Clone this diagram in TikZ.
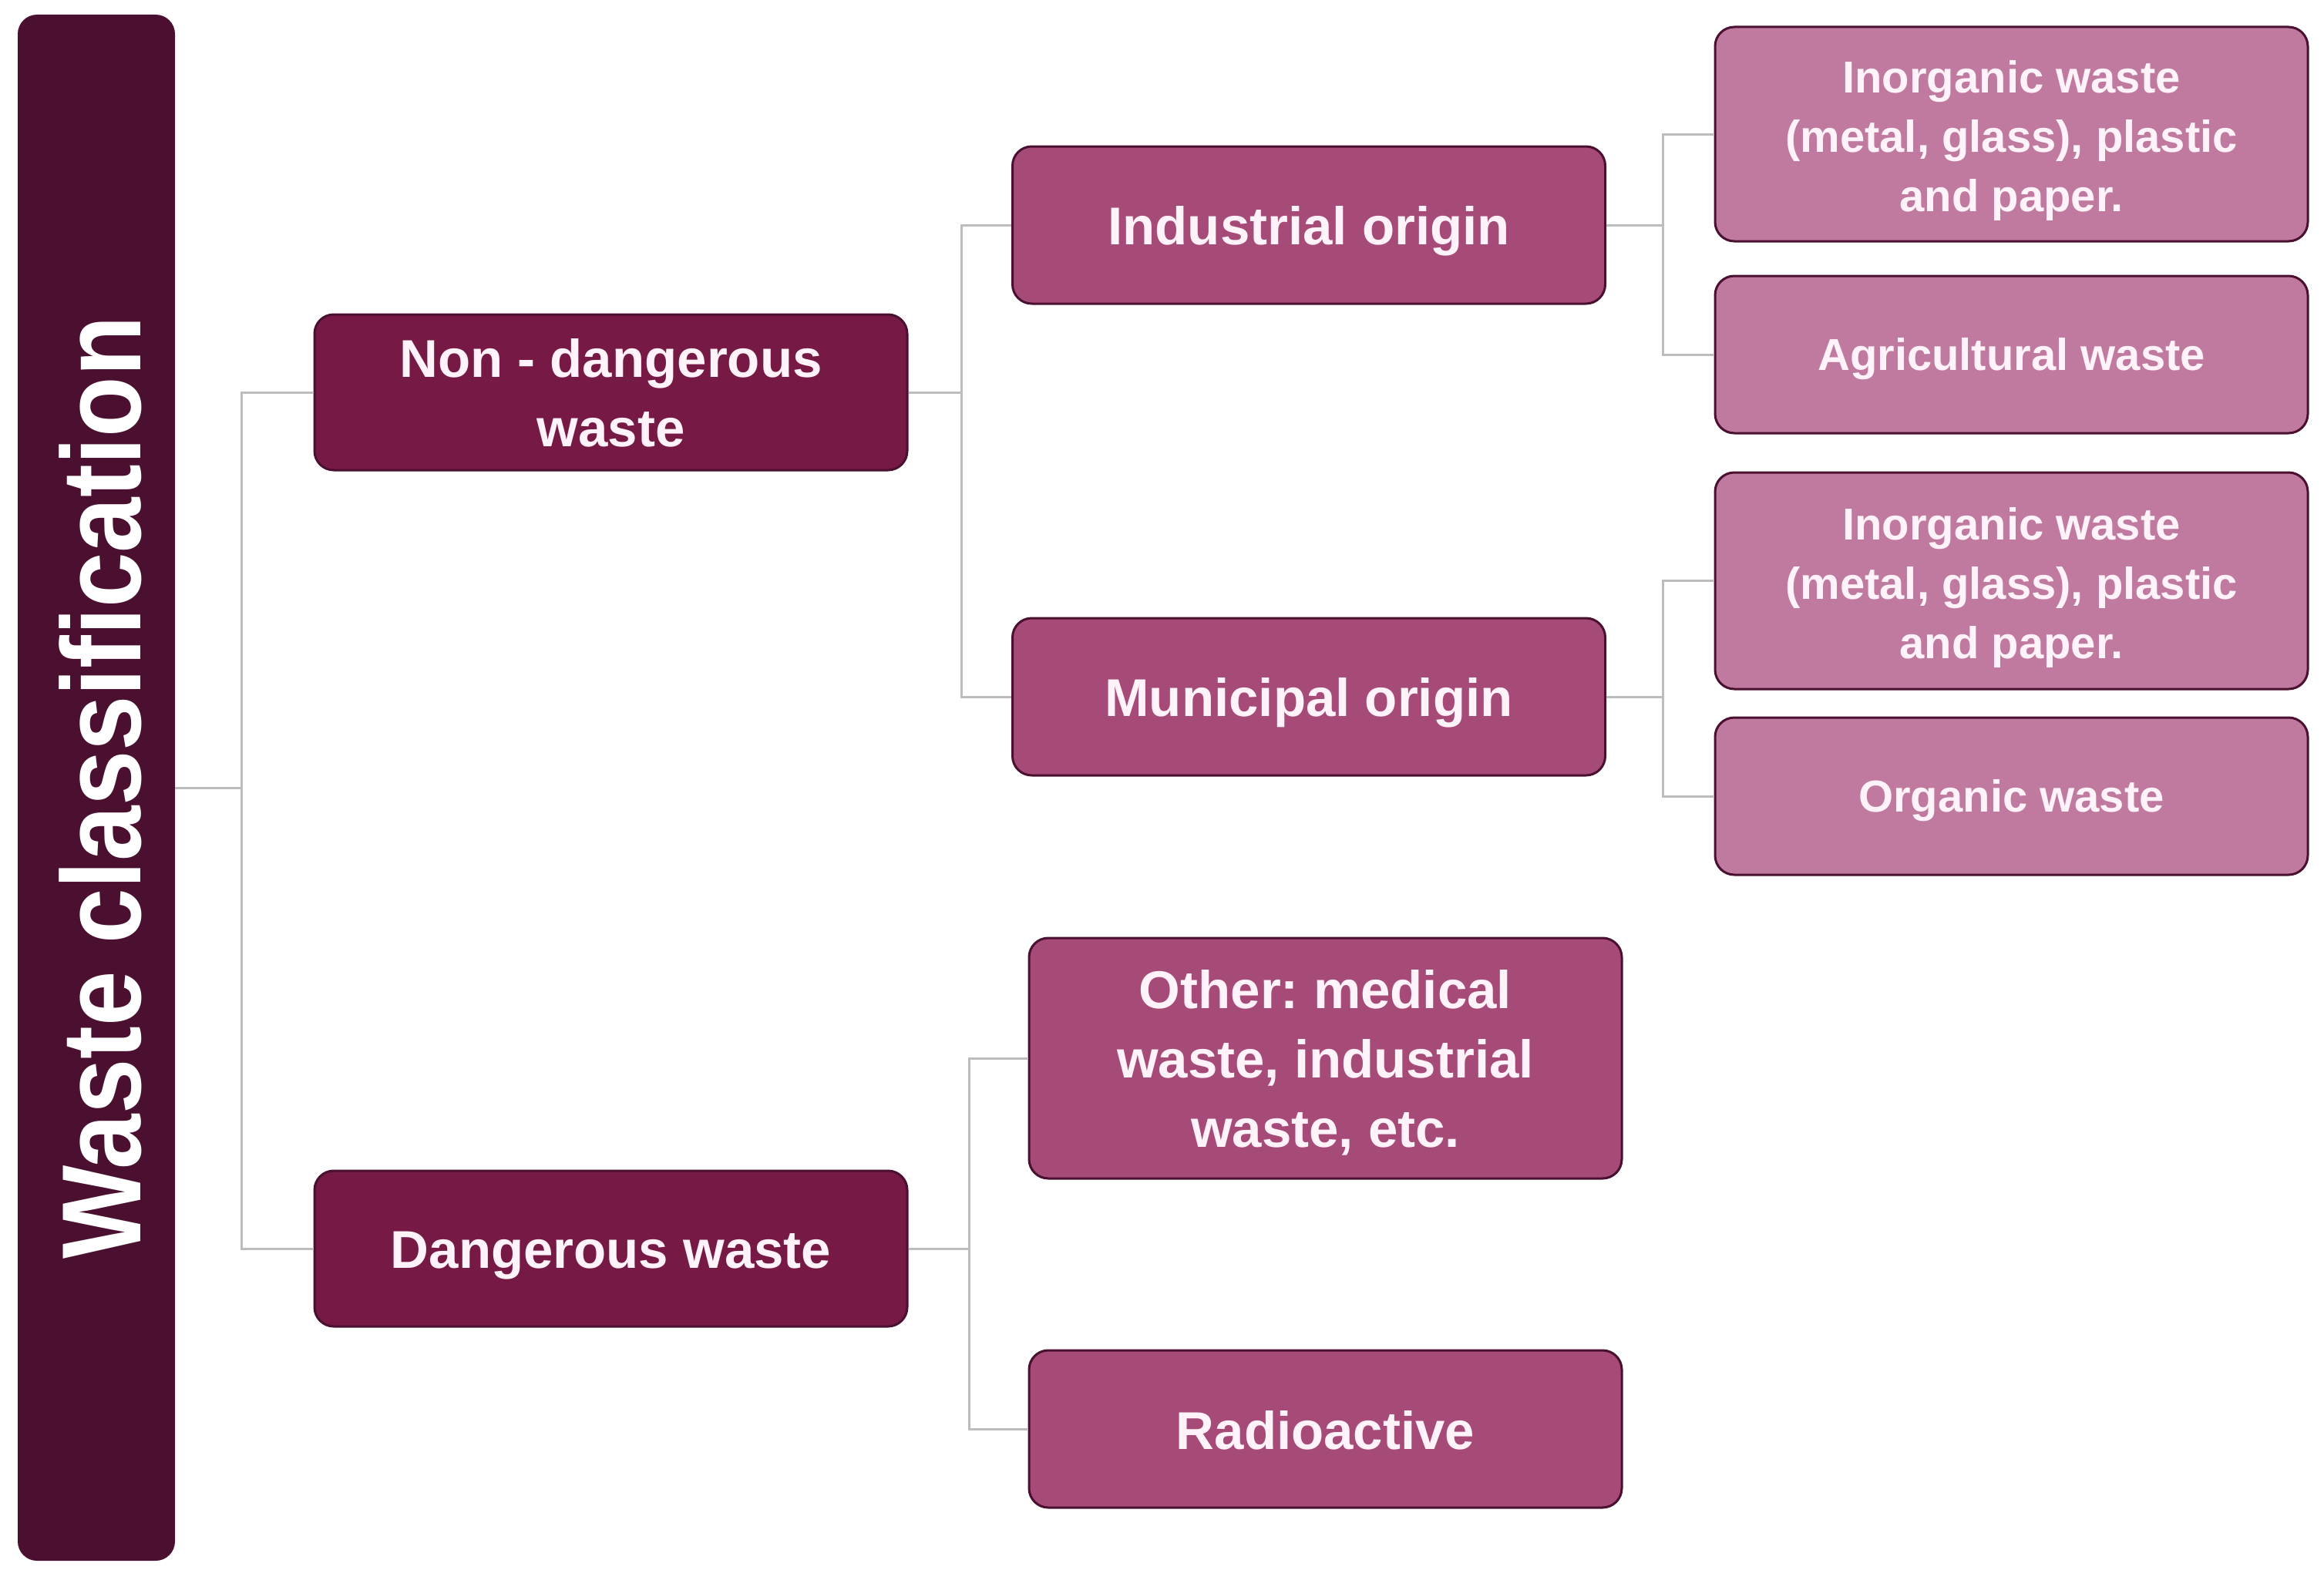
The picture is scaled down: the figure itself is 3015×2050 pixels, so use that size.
\documentclass[tikz,border=0pt]{standalone}
\usepackage{fontspec}
\setmainfont{Liberation Sans}
\frenchspacing
\definecolor{cTitle}{HTML}{4B1030}
\definecolor{cOne}{HTML}{761A45}
\definecolor{cTwo}{HTML}{A64A78}
\definecolor{cLeaf}{HTML}{C07A9F}
\definecolor{cBorder}{HTML}{4A1030}
\definecolor{cLine}{HTML}{BDBDBD}
\definecolor{cText}{HTML}{FFF2F8}
\begin{document}
\begin{tikzpicture}[x=1pt,y=-1pt,
  box/.style={draw=cBorder,line width=3pt,rounded corners=25pt,inner sep=0pt,minimum width=769pt},
  lvlone/.style={box,fill=cOne,minimum height=202pt},
  lvltwo/.style={box,fill=cTwo,minimum height=204pt},
  leafbox/.style={box,fill=cLeaf,minimum height=204pt},
  txt/.style={text=cText,align=center,inner sep=0pt,font=\fontsize{69}{90}\selectfont\bfseries},
  leaftxt/.style={txt,font=\fontsize{58}{77}\selectfont\bfseries},
  conn/.style={draw=cLine,line width=3pt}]
\useasboundingbox (0,0) rectangle (3015,2050);
\fill[white] (0,0) rectangle (3015,2050);
% boxes
\node[fill=cTitle,rounded corners=25pt,minimum width=204pt,minimum height=2006pt,inner sep=0pt] (title) at (125,1022) {};
\node[lvlone] (nd) at (792.5,509) {};
\node[lvlone] (dg) at (792.5,1620) {};
\node[lvltwo] (ind) at (1698,292) {};
\node[lvltwo] (mun) at (1698,904) {};
\node[lvltwo,minimum height=312pt] (oth) at (1719.5,1373) {};
\node[lvltwo] (rad) at (1719.5,1854) {};
\node[leafbox,minimum height=278pt] (in1) at (2609.5,174) {};
\node[leafbox] (agr) at (2609.5,460) {};
\node[leafbox,minimum height=281pt] (in2) at (2609.5,753.5) {};
\node[leafbox] (org) at (2609.5,1033) {};
% texts
\node[rotate=90,text=white,inner sep=0pt,font=\fontsize{146}{150}\selectfont\bfseries] (titletext) at ([xshift=5pt]title.center) {\scalebox{0.88}[1]{Waste classification}};
\node[txt] (ndT) at ([yshift=-1pt]nd.center) {Non - dangerous\\waste};
\node[txt] (dgT) at ([yshift=-9pt]dg.center) {Dangerous waste};
\node[txt] (indT) at ([yshift=-8pt]ind.center) {Industrial origin};
\node[txt] (munT) at ([yshift=-8pt]mun.center) {Municipal origin};
\node[txt] (othT) at ([yshift=-6pt]oth.center) {Other: medical\\waste, industrial\\waste, etc.};
\node[txt] (radT) at ([yshift=-2pt]rad.center) {Radioactive};
\node[leaftxt] (in1T) at ([yshift=-9pt]in1.center) {Inorganic waste\\(metal, glass), plastic\\and paper.};
\node[leaftxt] (agrT) at ([yshift=-6pt]agr.center) {Agricultural waste};
\node[leaftxt] (in2T) at ([yshift=-9pt]in2.center) {Inorganic waste\\(metal, glass), plastic\\and paper.};
\node[leaftxt] (orgT) at ([yshift=-6pt]org.center) {Organic waste};
% connectors
\draw[conn] (title.east) -- ++(86,0) |- (nd.west);
\draw[conn] (title.east) -- ++(86,0) |- (dg.west);
\draw[conn] (nd.east) -- ++(69,0) |- (ind.west);
\draw[conn] (nd.east) -- ++(69,0) |- (mun.west);
\draw[conn] (dg.east) -- ++(79,0) |- (oth.west);
\draw[conn] (dg.east) -- ++(79,0) |- (rad.west);
\draw[conn] (ind.east) -- ++(73,0) |- (in1.west);
\draw[conn] (ind.east) -- ++(73,0) |- (agr.west);
\draw[conn] (mun.east) -- ++(73,0) |- (in2.west);
\draw[conn] (mun.east) -- ++(73,0) |- (org.west);
\end{tikzpicture}
\end{document}
